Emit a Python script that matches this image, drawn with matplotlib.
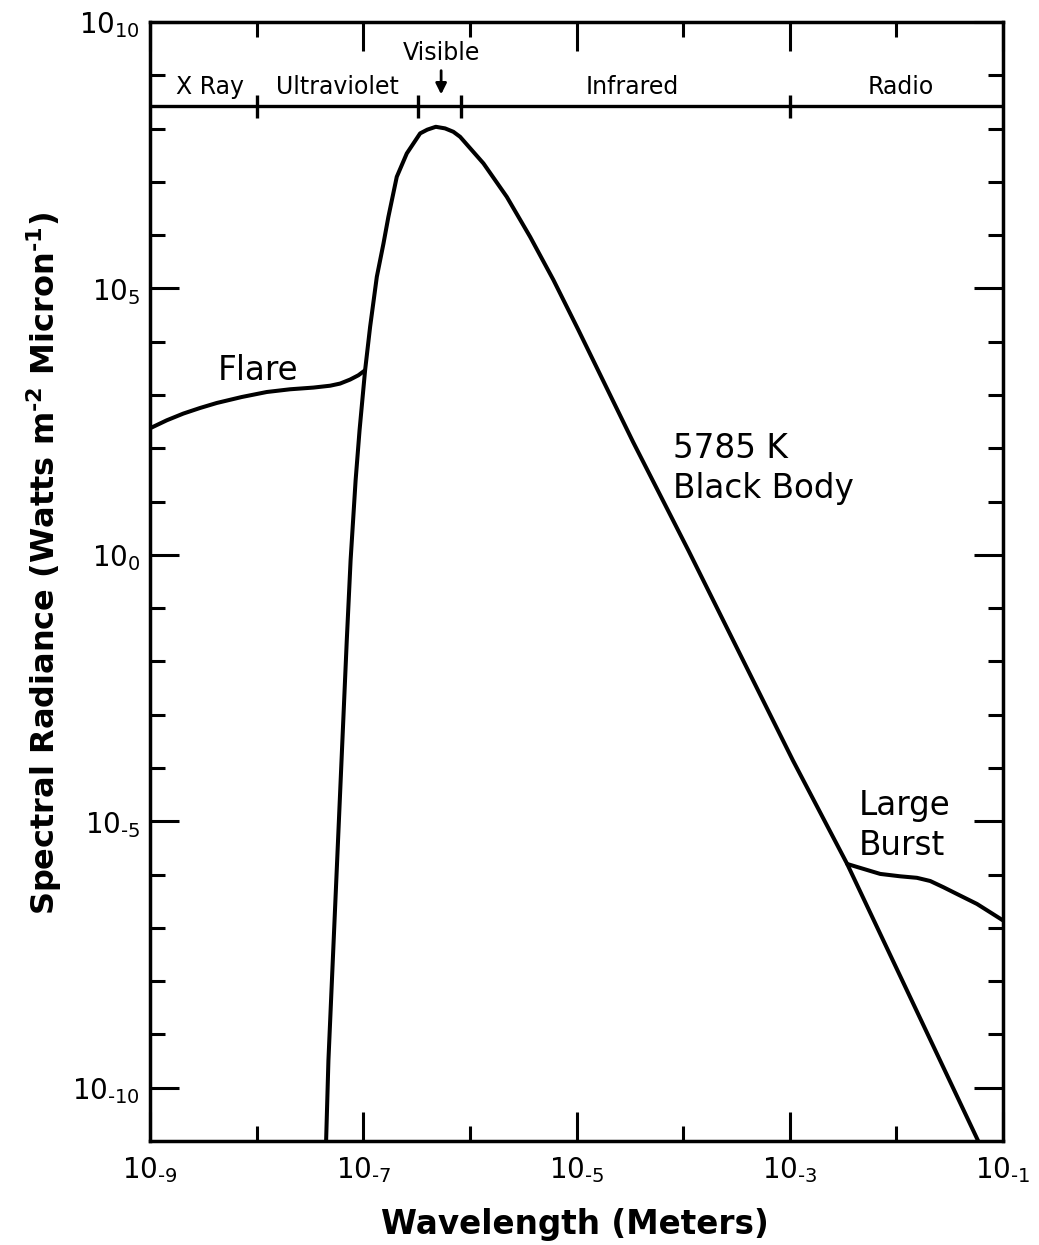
#Espectro solar: cuerpo negro de 5785 K con fulguracion y gran estallido

import matplotlib.pyplot as plt
from matplotlib.ticker import NullFormatter
import numpy as np

# valores (exponentes base 10)
bb_log_wl = [-7.354, -7.327, -7.241, -7.155, -7.119, -7.072, -7.035, -6.983, -6.936,
             -6.873, -6.811, -6.765, -6.686, -6.592, -6.467, -6.40, -6.32, -6.233,
             -6.155, -6.092, -5.873, -5.654, -5.435, -5.217, -4.985, -4.47, -3.95,
             -3.49, -2.97, -2.462, -1.233, -1.19]
bb_log_rad = [-11.37, -9.49, -5.55, -1.61, -0.10, 1.40, 2.34, 3.465, 4.28,
              5.22, 5.84, 6.34, 7.095, 7.534, 7.91, 7.98, 8.034, 8.004,
              7.94, 7.846, 7.347, 6.719, 5.968, 5.16, 4.23, 2.12, 0.08,
              -1.77, -3.86, -5.80, -11.0, -11.2]

flare_log_wl = [-9.0, -8.843, -8.688, -8.531, -8.374, -8.14, -7.905, -7.687, -7.468,
                -7.311, -7.218, -7.124, -7.046, -6.983]
flare_log_rad = [2.376, 2.526, 2.652, 2.757, 2.851, 2.963, 3.057, 3.108, 3.14,
                 3.175, 3.215, 3.29, 3.371, 3.465]

burst_log_wl = [-2.462, -2.34, -2.152, -1.964, -1.808, -1.683, -1.558, -1.402,
                -1.245, -1.12, -1.0]
burst_log_rad = [-5.80, -5.874, -5.987, -6.032, -6.060, -6.120, -6.238, -6.394,
                 -6.55, -6.708, -6.86]

region_names = ['X Ray', 'Ultraviolet', 'Infrared', 'Radio']
region_log_wl = [-8.44, -7.24, -4.48, -1.96]
region_edges_log = [-8.0, -6.49, -6.08, -3.0]
visible_log_wl = -6.27

x_major = [-9, -7, -5, -3, -1]
x_minor = [-8, -6, -4, -2]
y_major = [10, 5, 0, -5, -10]
y_minor = [9, 8, 7, 6, 4, 3, 2, 1, -1, -2, -3, -4, -6, -7, -8, -9]

GUION = '\u2010'


def etiqueta(e):
    # potencia de diez con el exponente como subindice y guion corto
    s = str(e).replace('-', GUION)
    return '$10_{' + s + '}$'


plt.rcParams['mathtext.default'] = 'regular'

fig = plt.figure(figsize=(10.39, 12.45), dpi=100)
ax = fig.add_axes([0.1444, 0.0835, 0.821, 0.8988])
ax.set_xscale('log')
ax.set_yscale('log')
ax.set_xlim(1e-9, 1e-1)
ax.set_ylim(1e-11, 1e10)

line_kw = dict(color='black', lw=2.9, solid_joinstyle='round', solid_capstyle='round')
ax.plot(10.0 ** np.array(bb_log_wl), 10.0 ** np.array(bb_log_rad), **line_kw)
ax.plot(10.0 ** np.array(flare_log_wl), 10.0 ** np.array(flare_log_rad), **line_kw)
ax.plot(10.0 ** np.array(burst_log_wl), 10.0 ** np.array(burst_log_rad), **line_kw)

# ejes y marcas
ax.set_xticks([10.0 ** e for e in x_major])
ax.set_xticklabels([etiqueta(e) for e in x_major])
ax.set_xticks([10.0 ** e for e in x_minor], minor=True)
ax.set_yticks([10.0 ** e for e in y_major])
ax.set_yticklabels([etiqueta(e) for e in y_major])
ax.set_yticks([10.0 ** e for e in y_minor], minor=True)
ax.xaxis.set_minor_formatter(NullFormatter())
ax.yaxis.set_minor_formatter(NullFormatter())

ax.tick_params(which='both', direction='in', top=True, right=True, width=2.2,
               color='black', labelsize=20)
ax.tick_params(which='major', length=21)
ax.tick_params(which='minor', length=11)
ax.tick_params(axis='x', which='major', pad=10)
ax.tick_params(axis='y', which='major', pad=7)
for s in ax.spines.values():
    s.set_linewidth(2.5)

# banda superior con regiones del espectro
ax.axhline(10 ** 8.42, color='black', lw=2.4)
ax.vlines([10.0 ** e for e in region_edges_log], 10 ** 8.2, 10 ** 8.63, color='black', lw=2.4)
for name, lw in zip(region_names, region_log_wl):
    ax.text(10 ** lw, 10 ** 8.78, name, ha='center', va='center', fontsize=17)
ax.text(10 ** visible_log_wl, 10 ** 9.42, 'Visible', ha='center', va='center', fontsize=17)
ax.annotate('', xy=(10 ** visible_log_wl, 10 ** 8.59), xytext=(10 ** visible_log_wl, 10 ** 9.14),
            arrowprops=dict(arrowstyle='-|>', color='black', lw=2, mutation_scale=16))

# etiquetas de las curvas
ax.text(10 ** -7.99, 10 ** 3.28, 'Flare', ha='center', va='baseline', fontsize=23.5)
ax.text(10 ** -4.094, 10 ** 1.81, '5785 K', ha='left', va='baseline', fontsize=23.5)
ax.text(10 ** -4.094, 10 ** 1.06, 'Black Body', ha='left', va='baseline', fontsize=23.5)
ax.text(10 ** -2.358, 10 ** -4.89, 'Large', ha='left', va='baseline', fontsize=23.5)
ax.text(10 ** -2.358, 10 ** -5.64, 'Burst', ha='left', va='baseline', fontsize=23.5)

ax.set_xlabel('Wavelength (Meters)', fontsize=23.5, fontweight='bold', va='top')
ax.xaxis.set_label_coords(0.498, -0.060)
ax.set_ylabel('Spectral Radiance (Watts m$^{\\mathbf{' + GUION + '2}}$ Micron$^{\\mathbf{'
              + GUION + '1}}$)', fontsize=23, fontweight='bold')
ax.yaxis.set_label_coords(-0.101, 0.5165)

fig.savefig('out.png', dpi=100)
